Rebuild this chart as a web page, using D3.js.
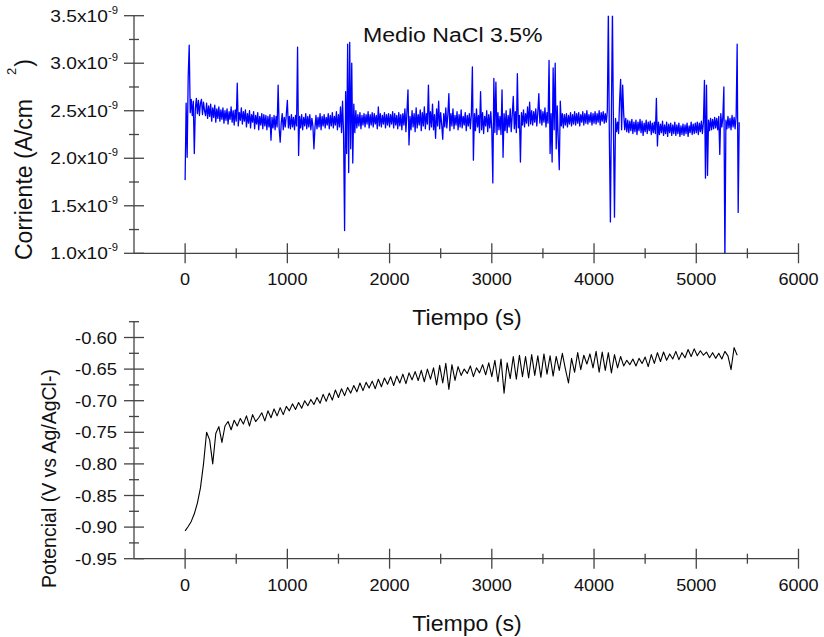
<!DOCTYPE html>
<html>
<head>
<meta charset="utf-8">
<script src="https://cdn.jsdelivr.net/npm/d3@7"></script>
<style>
  body { margin: 0; background: #fff; }
  svg { display: block; font-family: "Liberation Sans", Arial, sans-serif; }
</style>
</head>
<body>
<div id="chart"></div>
<script>
// axis ticks
var timeTicks = [0, 1000, 2000, 3000, 4000, 5000, 6000];
var timeMinor = [500, 1500, 2500, 3500, 4500, 5500];
var currentTicks = [1.0, 1.5, 2.0, 2.5, 3.0, 3.5];          // x10^-9
var currentMinor = [1.25, 1.75, 2.25, 2.75, 3.25];
var potentialTicks = [-0.95, -0.90, -0.85, -0.80, -0.75, -0.70, -0.65, -0.60];
var potentialMinor = [-0.925, -0.875, -0.825, -0.775, -0.725, -0.675, -0.625, -0.575];

// corriente, one sample every 10 s, in 1e-9 A/cm2
var currentStep = 10;
var currentValues = [
  1.77, 2.58, 2.01, 2.85, 3.19, 2.48, 2.62, 2.45, 2.60, 2.05, 2.52, 2.63, 2.47, 2.61, 2.45, 2.58, 2.62, 2.46, 2.59, 2.50,
  2.45, 2.58, 2.42, 2.55, 2.44, 2.57, 2.39, 2.53, 2.43, 2.56, 2.38, 2.52, 2.42, 2.54, 2.39, 2.51, 2.41, 2.53, 2.37, 2.50,
  2.40, 2.52, 2.36, 2.49, 2.41, 2.54, 2.38, 2.50, 2.35, 2.51, 2.39, 2.79, 2.34, 2.48, 2.40, 2.53, 2.36, 2.49, 2.39, 2.51,
  2.33, 2.47, 2.37, 2.50, 2.32, 2.46, 2.38, 2.49, 2.31, 2.45, 2.36, 2.48, 2.30, 2.44, 2.35, 2.47, 2.31, 2.46, 2.34, 2.45,
  2.30, 2.44, 2.33, 2.46, 2.19, 2.43, 2.32, 2.45, 2.30, 2.44, 2.33, 2.77, 2.31, 2.17, 2.37, 2.47, 2.30, 2.43, 2.33, 2.46,
  2.61, 2.32, 2.44, 2.31, 2.46, 2.33, 2.43, 2.30, 2.45, 2.34, 3.17, 2.03, 2.44, 2.32, 2.46, 2.30, 2.43, 2.34, 2.47, 2.31,
  2.44, 2.33, 2.46, 2.30, 2.42, 2.34, 2.10, 2.32, 2.45, 2.31, 2.43, 2.33, 2.47, 2.30, 2.44, 2.34, 2.46, 2.32, 2.43, 2.35,
  2.47, 2.31, 2.45, 2.34, 2.48, 2.32, 2.44, 2.35, 2.49, 2.30, 2.46, 2.33, 2.54, 2.27, 2.60, 2.25, 1.24, 2.70, 2.05, 3.20,
  1.85, 3.22, 2.10, 3.00, 1.95, 2.57, 2.27, 2.50, 2.32, 2.46, 2.34, 2.48, 2.31, 2.45, 2.35, 2.47, 2.33, 2.46, 2.36, 2.49,
  2.32, 2.46, 2.35, 2.48, 2.33, 2.47, 2.36, 2.45, 2.31, 2.54, 2.34, 2.47, 2.33, 2.45, 2.36, 2.48, 2.32, 2.46, 2.35, 2.47,
  2.33, 2.46, 2.36, 2.49, 2.32, 2.47, 2.35, 2.45, 2.31, 2.48, 2.34, 2.46, 2.30, 2.47, 2.35, 2.52, 2.28, 2.49, 2.72, 2.14,
  2.44, 2.30, 2.50, 2.33, 2.47, 2.28, 2.53, 2.32, 2.46, 2.35, 2.51, 2.29, 2.48, 2.34, 2.54, 2.31, 2.47, 2.36, 2.77, 2.30,
  2.49, 2.33, 2.57, 2.30, 2.46, 2.21, 2.52, 2.34, 2.60, 2.31, 2.48, 2.35, 2.20, 2.47, 2.33, 2.53, 2.32, 2.46, 2.68, 2.29,
  2.47, 2.34, 2.52, 2.31, 2.45, 2.35, 2.49, 2.30, 2.46, 2.33, 2.51, 2.32, 2.44, 2.35, 2.48, 2.29, 2.45, 2.34, 2.47, 2.31,
  2.46, 2.96, 1.98, 2.47, 2.29, 2.52, 2.33, 2.45, 2.27, 2.70, 2.30, 2.48, 2.26, 2.44, 2.34, 2.50, 2.28, 2.46, 2.32, 2.49,
  2.30, 1.74, 2.84, 2.27, 2.80, 2.25, 2.48, 2.30, 2.44, 2.25, 2.72, 2.01, 2.47, 2.29, 2.50, 2.27, 2.45, 2.33, 2.52, 2.28,
  2.46, 2.65, 2.31, 2.49, 2.27, 2.89, 2.32, 2.45, 1.96, 2.48, 2.35, 2.51, 2.33, 2.47, 2.37, 2.54, 2.34, 2.59, 2.36, 2.50,
  2.35, 2.49, 2.38, 2.52, 2.34, 2.48, 2.68, 2.37, 2.51, 2.35, 2.49, 2.38, 2.53, 2.33, 2.48, 2.37, 3.03, 2.05, 2.47, 1.96,
  2.95, 2.30, 3.00, 2.10, 2.55, 2.20, 1.88, 2.60, 2.34, 2.47, 2.32, 2.46, 2.35, 2.47, 2.33, 2.45, 2.36, 2.48, 2.34, 2.46,
  2.36, 2.49, 2.35, 2.47, 2.37, 2.48, 2.34, 2.46, 2.38, 2.49, 2.35, 2.47, 2.37, 2.50, 2.36, 2.46, 2.38, 2.48, 2.35, 2.47,
  2.37, 2.49, 2.36, 2.47, 2.38, 2.50, 2.35, 2.48, 2.39, 2.49, 2.37, 2.47, 2.38, 2.50, 3.55, 2.20, 1.33, 2.50, 3.55, 2.30,
  1.38, 2.42, 2.28, 2.38, 2.26, 2.60, 2.83, 2.30, 2.77, 2.47, 2.30, 2.42, 2.28, 2.40, 2.27, 2.39, 2.29, 2.41, 2.26, 2.38,
  2.28, 2.40, 2.25, 2.38, 2.29, 2.41, 2.27, 2.39, 2.24, 2.37, 2.28, 2.40, 2.26, 2.38, 2.29, 2.39, 2.25, 2.37, 2.27, 2.38,
  2.26, 2.63, 2.13, 2.38, 2.25, 2.36, 2.27, 2.39, 2.24, 2.35, 2.26, 2.38, 2.23, 2.36, 2.27, 2.37, 2.24, 2.35, 2.26, 2.38,
  2.24, 2.35, 2.26, 2.37, 2.23, 2.34, 2.25, 2.36, 2.24, 2.35, 2.26, 2.37, 2.23, 2.34, 2.27, 2.38, 2.25, 2.36, 2.26, 2.37,
  2.27, 2.38, 2.25, 2.37, 2.28, 2.39, 2.26, 2.38, 2.82, 1.79, 2.77, 1.82, 2.40, 2.29, 2.42, 2.30, 2.41, 2.31, 2.43, 2.32,
  2.42, 2.30, 2.44, 2.04, 2.47, 2.33, 2.43, 2.75, 0.90, 2.40, 2.31, 2.44, 2.32, 2.42, 2.30, 2.45, 2.33, 2.43, 2.31, 2.44,
  3.20, 1.43, 2.38
];

// potencial, one sample every 30 s, V vs Ag/AgCl
var potentialStep = 30;
var potentialValues = [
  -0.906, -0.899, -0.891, -0.879, -0.862, -0.838, -0.800, -0.750, -0.762, -0.800,
  -0.752, -0.741, -0.766, -0.740, -0.733, -0.746, -0.731, -0.740, -0.728, -0.737,
  -0.724, -0.740, -0.722, -0.733, -0.727, -0.719, -0.732, -0.716, -0.727, -0.713,
  -0.724, -0.711, -0.722, -0.709, -0.716, -0.705, -0.714, -0.703, -0.712, -0.700,
  -0.708, -0.698, -0.706, -0.695, -0.704, -0.690, -0.701, -0.688, -0.699, -0.683,
  -0.695, -0.681, -0.692, -0.679, -0.688, -0.676, -0.686, -0.672, -0.684, -0.671,
  -0.680, -0.669, -0.681, -0.666, -0.678, -0.664, -0.674, -0.662, -0.676, -0.661,
  -0.672, -0.658, -0.673, -0.656, -0.667, -0.654, -0.668, -0.652, -0.670, -0.650,
  -0.666, -0.648, -0.675, -0.644, -0.672, -0.641, -0.682, -0.643, -0.668, -0.646,
  -0.660, -0.650, -0.657, -0.645, -0.662, -0.648, -0.656, -0.643, -0.659, -0.640,
  -0.662, -0.636, -0.670, -0.634, -0.688, -0.640, -0.665, -0.630, -0.666, -0.628,
  -0.662, -0.630, -0.664, -0.627, -0.660, -0.629, -0.663, -0.626, -0.658, -0.629,
  -0.661, -0.630, -0.652, -0.625, -0.650, -0.672, -0.633, -0.655, -0.624, -0.651,
  -0.628, -0.642, -0.626, -0.648, -0.622, -0.655, -0.623, -0.652, -0.624, -0.656,
  -0.627, -0.648, -0.630, -0.645, -0.636, -0.643, -0.634, -0.645, -0.633, -0.641,
  -0.631, -0.646, -0.627, -0.641, -0.624, -0.638, -0.623, -0.636, -0.626, -0.634,
  -0.622, -0.635, -0.624, -0.632, -0.619, -0.630, -0.618, -0.629, -0.621, -0.628,
  -0.623, -0.632, -0.624, -0.633, -0.625, -0.634, -0.622, -0.629, -0.651, -0.616,
  -0.628
];

var W = 824, H = 637;
var axisColor = '#444';

var svg = d3.select('#chart').append('svg')
    .attr('width', W)
    .attr('height', H);

// shared time scale, both panels use the same x range
var x = d3.scaleLinear().domain([-500, 6000]).range([134, 798.5]);

var yCur = d3.scaleLinear().domain([1e-9, 3.5e-9]).range([253.3, 15.7]);
var yPot = d3.scaleLinear().domain([-0.95, -0.575]).range([558.7, 321.7]);

function stretchedText(g, px, py, sx) {
  return g.append('text')
      .attr('transform', 'translate(' + px + ',' + py + ') scale(' + sx + ',1)');
}

function drawAxes(y, yMajor, yMinor) {
  var g = svg.append('g')
      .attr('stroke', axisColor)
      .attr('stroke-width', 1.3);
  var x0 = x.range()[0], x1 = x.range()[1];
  var yBase = y.range()[0];

  g.append('line').attr('x1', x0).attr('x2', x1).attr('y1', yBase).attr('y2', yBase);
  g.append('line').attr('x1', x0).attr('x2', x0).attr('y1', yBase).attr('y2', y.range()[1]);

  g.selectAll('.xmaj').data(timeTicks).enter().append('line')
      .attr('x1', d => x(d)).attr('x2', d => x(d))
      .attr('y1', yBase - 10).attr('y2', yBase + 10);
  g.selectAll('.xmin').data(timeMinor).enter().append('line')
      .attr('x1', d => x(d)).attr('x2', d => x(d))
      .attr('y1', yBase - 5).attr('y2', yBase + 5);
  g.selectAll('.ymaj').data(yMajor).enter().append('line')
      .attr('x1', x0 - 10).attr('x2', x0 + 10)
      .attr('y1', d => y(d)).attr('y2', d => y(d));
  g.selectAll('.ymin').data(yMinor).enter().append('line')
      .attr('x1', x0 - 5).attr('x2', x0 + 5)
      .attr('y1', d => y(d)).attr('y2', d => y(d));

  timeTicks.forEach(function (t) {
    stretchedText(svg, x(t), yBase + 32, 1.13)
        .attr('text-anchor', 'middle')
        .attr('font-size', 16)
        .attr('fill', '#111')
        .text(t);
  });

  stretchedText(svg, 467, yBase + 72, 1.05)
      .attr('text-anchor', 'middle')
      .attr('font-size', 22)
      .attr('fill', '#111')
      .text('Tiempo (s)');
  return g;
}

// ---- corriente (top) ----
drawAxes(yCur, currentTicks.map(d => d * 1e-9), currentMinor.map(d => d * 1e-9));

currentTicks.forEach(function (v) {
  var t = stretchedText(svg, 118, yCur(v * 1e-9) + 6, 1.13)
      .attr('text-anchor', 'end')
      .attr('font-size', 17)
      .attr('fill', '#111');
  t.append('tspan').text(v.toFixed(1) + 'x10');
  t.append('tspan').attr('font-size', 10).attr('dy', -8).text('-9');
});

var yl = svg.append('text')
    .attr('transform', 'translate(32,260) rotate(-90)')
    .attr('font-size', 23)
    .attr('fill', '#111');
yl.append('tspan').text('Corriente (A/cm');
yl.append('tspan').attr('dx', 24).attr('dy', -16).attr('font-size', 13).text('2');
yl.append('tspan').attr('dx', 1).attr('dy', 16).text(')');

stretchedText(svg, 363, 42, 1.1)
    .attr('font-size', 21)
    .attr('fill', '#111')
    .text('Medio NaCl 3.5%');

svg.append('clipPath').attr('id', 'clipTop')
  .append('rect')
    .attr('x', x.range()[0]).attr('y', yCur.range()[1])
    .attr('width', x.range()[1] - x.range()[0])
    .attr('height', yCur.range()[0] - yCur.range()[1]);

var curLine = d3.line()
    .x((d, i) => x(i * currentStep))
    .y(d => yCur(d * 1e-9));

svg.append('path')
    .attr('clip-path', 'url(#clipTop)')
    .attr('d', curLine(currentValues))
    .attr('fill', 'none')
    .attr('stroke', '#0000ff')
    .attr('stroke-width', 1.3)
    .attr('stroke-linejoin', 'round');

// ---- potencial (bottom) ----
drawAxes(yPot, potentialTicks, potentialMinor);

potentialTicks.forEach(function (v) {
  stretchedText(svg, 117, yPot(v) + 6, 1.15)
      .attr('text-anchor', 'end')
      .attr('font-size', 16)
      .attr('fill', '#111')
      .text(v.toFixed(2));
});

svg.append('text')
    .attr('transform', 'translate(56,588) rotate(-90)')
    .attr('font-size', 19.5)
    .attr('fill', '#111')
    .text('Potencial (V vs Ag/AgCl-)');

var potLine = d3.line()
    .x((d, i) => x(i * potentialStep))
    .y(d => yPot(d));

svg.append('path')
    .attr('d', potLine(potentialValues))
    .attr('fill', 'none')
    .attr('stroke', '#000')
    .attr('stroke-width', 1.1)
    .attr('stroke-linejoin', 'round');
</script>
</body>
</html>
